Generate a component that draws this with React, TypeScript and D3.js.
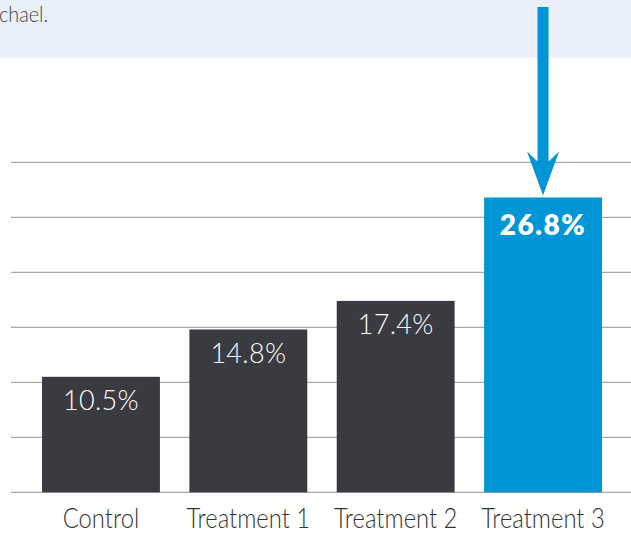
import React from "react";
import * as d3 from "d3";

const categories = ["Control", "Treatment 1", "Treatment 2", "Treatment 3"];
const values = [10.5, 14.8, 17.4, 26.8];
const gridTicks = [0, 5, 10, 15, 20, 25, 30];
const highlighted = "Treatment 3";
const bannerText = "chael.";

const W = 631;
const H = 535;

export default function App() {
  const x = d3
    .scaleBand<string>()
    .domain(categories)
    .range([27.3, 616.7])
    .paddingInner(0.2)
    .paddingOuter(0.1);
  const y = d3.scaleLinear().domain([0, 30]).range([492.3, 162.3]);

  const dark = "#3a3b40";
  const blue = "#0096d6";
  const font = "Lato, 'Open Sans', sans-serif";

  const hx = (x(highlighted) ?? 0) + x.bandwidth() / 2;
  const hTop = y(values[categories.indexOf(highlighted)]);
  const shaftHalf = 5.5;
  const headHalf = 16;
  const tipY = hTop - 2;
  const headY = tipY - 44;
  const arrowPath = [
    [hx - shaftHalf, 7],
    [hx - shaftHalf, headY + 10],
    [hx - headHalf, headY],
    [hx, tipY],
    [hx + headHalf, headY],
    [hx + shaftHalf, headY + 10],
    [hx + shaftHalf, 7],
  ];

  return (
    <svg
      width={W}
      height={H}
      style={{ position: "absolute", left: 0, top: 0, display: "block" }}
    >
      <rect x={0} y={0} width={W} height={58} fill="#e9f0fa" />
      <g transform="translate(-1,22) scale(0.9,1)">
        <text
          x={0}
          y={0}
          fontFamily={font}
          fontWeight={300}
          fontSize={22}
          fill="#444"
        >
          {bannerText}
        </text>
      </g>

      {gridTicks.map((t) => (
        <line
          key={t}
          x1={11}
          x2={W}
          y1={y(t)}
          y2={y(t)}
          stroke="#a8a8a8"
          strokeWidth={1.3}
        />
      ))}

      {categories.map((c, i) => {
        const isHi = c === highlighted;
        const bx = x(c) ?? 0;
        const cx = bx + x.bandwidth() / 2;
        const top = y(values[i]);
        return (
          <g key={c}>
            <rect
              x={bx}
              y={top}
              width={x.bandwidth()}
              height={y(0) - top}
              fill={isHi ? blue : dark}
            />
            <text
              x={cx}
              y={top + (isHi ? 37.5 : 33)}
              textAnchor="middle"
              fontFamily={font}
              fontWeight={isHi ? 800 : 300}
              fontSize={isHi ? 28 : 27}
              fill="#fff"
              letterSpacing={isHi ? 1.5 : 0.3}
            >
              {values[i].toFixed(1)}%
            </text>
            <g transform={`translate(${cx},528.3) scale(0.85,1)`}>
              <text
                x={0}
                y={0}
                textAnchor="middle"
                fontFamily={font}
                fontWeight={300}
                fontSize={28}
                fill="#333"
              >
                {c}
              </text>
            </g>
          </g>
        );
      })}

      <polygon
        points={arrowPath.map((p) => p.join(",")).join(" ")}
        fill={blue}
      />
    </svg>
  );
}
